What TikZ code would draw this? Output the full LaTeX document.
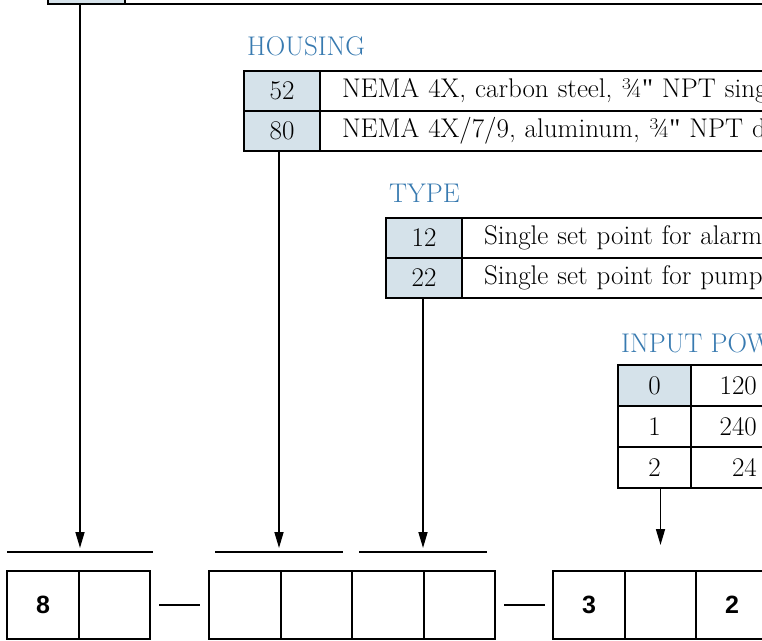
\documentclass[tikz,border=0pt]{standalone}
\usepackage{fontspec}
\newfontfamily\slotfont{Liberation Sans}
\newfontfamily\inchfont{Liberation Serif}
\newcommand{\inch}{{\inchfont"}}
\usetikzlibrary{arrows.meta, positioning}
\definecolor{cellblue}{RGB}{213,226,234}
\definecolor{headblue}{RGB}{56,122,176}

\begin{document}
\begin{tikzpicture}[
    x=1pt, y=-1pt,
    font=\fontsize{27}{30}\selectfont,
    % styles
    heading/.style={anchor=base west, inner sep=0, text=headblue},
    codecell/.style={draw, line width=1.2pt, fill=cellblue, minimum width=76pt, minimum height=40pt, inner sep=0, outer sep=0},
    plaincell/.style={codecell, fill=none},
    desccell/.style={draw, line width=1.2pt, minimum height=40pt, text width=756pt, inner xsep=22pt, inner ysep=0, align=left, outer sep=0},
    valcell/.style={draw, line width=1.2pt, minimum width=140pt, minimum height=41pt, inner sep=0, outer sep=0},
    frame/.style={draw, line width=2.6pt},
    bar/.style={fill=black, minimum height=2pt, inner sep=0, outer sep=0},
    slot/.style={draw, line width=1.6pt, minimum width=71.5pt, minimum height=68pt, inner sep=0, outer sep=0, font=\slotfont\fontsize{25}{28}\selectfont\bfseries},
    feed/.style={-{Triangle[length=16pt,width=9pt]}, line width=1.6pt, shorten >=3pt},
    dashline/.style={line width=1.6pt}
]
    \useasboundingbox (0,0) rectangle (762,640);
    \clip (0,0) rectangle (762,640);

    % --- top table (cut off) ---
    \node[codecell, minimum width=77pt] (ctop) at (86.5,-16) {};
    \node[desccell, right=0pt of ctop] (dtop) {};
    \draw[frame] (ctop.north west) rectangle (dtop.south east);

    % --- HOUSING ---
    \node[heading] (hhead) at (247,55) {HOUSING};
    \node[codecell] (h52) at (282,91) {52};
    \node[codecell, below=0pt of h52] (h80) {80};
    \node[desccell, right=0pt of h52] (d52) {NEMA 4X, carbon steel, ¾\inch{} NPT single};
    \node[desccell, right=0pt of h80] (d80) {NEMA 4X/7/9, aluminum, ¾\inch{} NPT dual};
    \draw[frame] (h52.north west) rectangle (d80.south east);

    % --- TYPE ---
    \node[heading] (thead) at (389,202) {TYPE};
    \node[codecell] (t12) at (424,238) {12};
    \node[codecell, below=0pt of t12] (t22) {22};
    \node[desccell, right=0pt of t12] (d12) {Single set point for alarm};
    \node[desccell, right=0pt of t22] (d22) {Single set point for pump};
    \draw[frame] (t12.north west) rectangle (d22.south east);

    % --- INPUT POWER ---
    \node[heading] (ihead) at (621,352) {INPUT POWER};
    \node[codecell, minimum width=73pt, minimum height=41pt] (i0) at (654.5,385.5) {0};
    \node[plaincell, minimum width=73pt, minimum height=41pt, below=0pt of i0] (i1) {1};
    \node[plaincell, minimum width=73pt, minimum height=41pt, below=0pt of i1] (i2) {2};
    \node[valcell, right=0pt of i0, label={[anchor=east, inner sep=0, xshift=66pt]west:120}] (v0) {};
    \node[valcell, right=0pt of i1, label={[anchor=east, inner sep=0, xshift=66pt]west:240}] (v1) {};
    \node[valcell, right=0pt of i2, label={[anchor=east, inner sep=0, xshift=66pt]west:24}] (v2) {};
    \draw[frame] (i0.north west) rectangle (v2.south east);

    % --- model number slots ---
    \node[bar, minimum width=146pt] (u1) at (80,552) {};
    \node[bar, minimum width=128pt] (u2) at (279,552) {};
    \node[bar, minimum width=128pt] (u3) at (423,552) {};

    \node[slot] (s1a) at (43,605) {8};
    \node[slot, right=0pt of s1a] (s1b) {};
    \node[slot] (s2a) at (245,605) {};
    \node[slot, right=0pt of s2a] (s2b) {};
    \node[slot, right=0pt of s2b] (s2c) {};
    \node[slot, right=0pt of s2c] (s2d) {};
    \node[slot] (s3a) at (589,605) {3};
    \node[slot, right=0pt of s3a] (s3b) {};
    \node[slot, right=0pt of s3b] (s3c) {2};

    \draw[dashline] ([xshift=9pt]s1b.east) -- ([xshift=-9pt]s2a.west);
    \draw[dashline] ([xshift=9pt]s2d.east) -- ([xshift=-8pt]s3a.west);

    % --- arrows ---
    \draw[feed] (ctop.south -| u1.north) -- (u1.north);
    \draw[feed] (h80.south -| u2.north) -- (u2.north);
    \draw[feed] (t22.south -| u3.north) -- (u3.north);
    \draw[feed] (i2.south -| s3b.north) -- ([yshift=23pt]s3b.north);
\end{tikzpicture}
\end{document}
